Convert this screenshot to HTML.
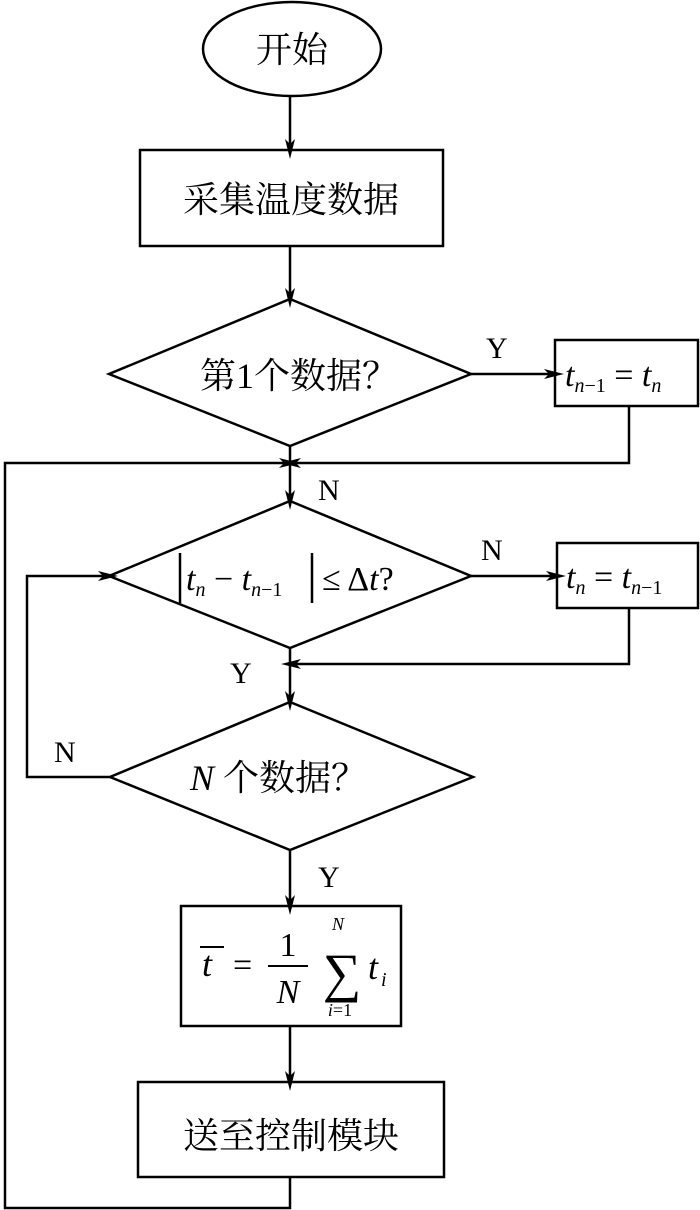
<!DOCTYPE html>
<html><head><meta charset="utf-8"><style>
html,body{margin:0;padding:0;background:#fff}
svg{display:block}
.cn{font-family:"Liberation Serif","Noto Serif CJK SC",serif;font-size:36px}
.lt{font-family:"Liberation Serif",serif;font-size:30px}
.it{font-family:"Liberation Serif",serif;font-style:italic}
</style></head><body>
<svg width="700" height="1210" viewBox="0 0 700 1210" xmlns="http://www.w3.org/2000/svg">
<defs><marker id="a" markerWidth="10" markerHeight="20" refX="10" refY="5" orient="auto" markerUnits="userSpaceOnUse" viewBox="0 0 10 10"><path d="M0,0 L10,5 L0,10 L3,5Z" fill="#000"/></marker>
<marker id="b" markerWidth="20" markerHeight="10" refX="10" refY="5" orient="auto" markerUnits="userSpaceOnUse" viewBox="0 0 20 10"><path d="M0,0 L20,5 L0,10 L5,5Z" fill="#000"/></marker></defs>
<g fill="none" stroke="#000" stroke-width="2.5">
<ellipse cx="292" cy="49" rx="89" ry="47"/>
<rect x="140" y="150" width="303" height="96"/>
<polygon points="290,299 471,374 290,446 109,374"/>
<rect x="555" y="340" width="143" height="66"/>
<polygon points="290,501 471,576 290,648 109,576"/>
<rect x="557" y="543" width="141" height="65"/>
<polygon points="290,702 473,777 290,850 110,777"/>
<rect x="181" y="906" width="220" height="120"/>
<rect x="138" y="1082" width="306" height="95"/>
<line x1="290" y1="97" x2="290" y2="149" marker-end="url(#b)"/>
<line x1="290" y1="246" x2="290" y2="298" marker-end="url(#b)"/>
<line x1="471" y1="374" x2="554" y2="374" marker-end="url(#b)"/>
<polyline points="629,406 629,463 291,463" marker-end="url(#b)"/>
<polyline points="290,1177 290,1208 5,1208 5,463 289,463" marker-end="url(#b)"/>
<line x1="290" y1="446" x2="290" y2="500" marker-end="url(#b)"/>
<line x1="471" y1="576" x2="556" y2="576" marker-end="url(#b)"/>
<polyline points="629,608 629,664 291,664" marker-end="url(#b)"/>
<line x1="290" y1="648" x2="290" y2="701" marker-end="url(#b)"/>
<polyline points="110,777 27,777 27,576 108,576" marker-end="url(#b)"/>
<line x1="290" y1="850" x2="290" y2="905" marker-end="url(#b)"/>
<line x1="290" y1="1026" x2="290" y2="1081" marker-end="url(#b)"/>
<line x1="180" y1="553" x2="180" y2="603"/>
<line x1="312" y1="553" x2="312" y2="603"/>
</g>
<g fill="#000">
<text class="cn" x="292" y="62" text-anchor="middle">开始</text>
<text class="cn" x="291" y="212" text-anchor="middle">采集温度数据</text>
<text class="cn" x="200" y="388">第1个数据？</text>
<text class="lt" x="486" y="358">Y</text>
<text class="lt" x="318" y="500">N</text>
<text class="lt" x="481" y="560">N</text>
<text class="lt" x="230" y="683">Y</text>
<text class="lt" x="54" y="762">N</text>
<text class="lt" x="318" y="887">Y</text>
<text class="cn" x="190" y="790"><tspan class="it">N</tspan> 个数据？</text>
<text class="cn" x="291" y="1148" text-anchor="middle">送至控制模块</text>
<text x="565" y="386" font-family="Liberation Serif" font-size="34"><tspan class="it">t</tspan><tspan class="it" font-size="20" dy="6">n</tspan><tspan font-size="20">−1</tspan><tspan dy="-6"> = </tspan><tspan class="it">t</tspan><tspan class="it" font-size="20" dy="6">n</tspan></text>
<text x="566" y="588" font-family="Liberation Serif" font-size="34"><tspan class="it">t</tspan><tspan class="it" font-size="20" dy="6">n</tspan><tspan dy="-6"> = </tspan><tspan class="it">t</tspan><tspan class="it" font-size="20" dy="6">n</tspan><tspan font-size="20">−1</tspan></text>
<text x="186" y="590" font-family="Liberation Serif" font-size="34"><tspan class="it">t</tspan><tspan class="it" font-size="20" dy="6">n</tspan><tspan dy="-6"> − </tspan><tspan class="it">t</tspan><tspan class="it" font-size="20" dy="6">n</tspan><tspan font-size="20">−1</tspan></text>
<text x="322" y="590" font-family="Liberation Serif" font-size="34">≤ Δ<tspan class="it">t</tspan>?</text>
<text class="it" x="202" y="976" font-family="Liberation Serif" font-size="36">t</text>
<line x1="200" y1="947" x2="224" y2="947" stroke="#000" stroke-width="2"/>
<text x="233" y="976" font-family="Liberation Serif" font-size="34">=</text>
<text x="288" y="956" text-anchor="middle" font-family="Liberation Serif" font-size="34">1</text>
<line x1="268" y1="966" x2="308" y2="966" stroke="#000" stroke-width="2"/>
<text class="it" x="288" y="1003" text-anchor="middle" font-family="Liberation Serif" font-size="34">N</text>
<text x="342" y="991" text-anchor="middle" font-family="Liberation Serif" font-size="54">∑</text>
<text class="it" x="338" y="930" text-anchor="middle" font-family="Liberation Serif" font-size="18">N</text>
<text x="340" y="1016" text-anchor="middle" font-family="Liberation Serif" font-size="18"><tspan class="it">i</tspan>=1</text>
<text class="it" x="368" y="979" font-family="Liberation Serif" font-size="36">t</text>
<text class="it" x="381" y="986" font-family="Liberation Serif" font-size="20">i</text>
</g>
</svg>
</body></html>
